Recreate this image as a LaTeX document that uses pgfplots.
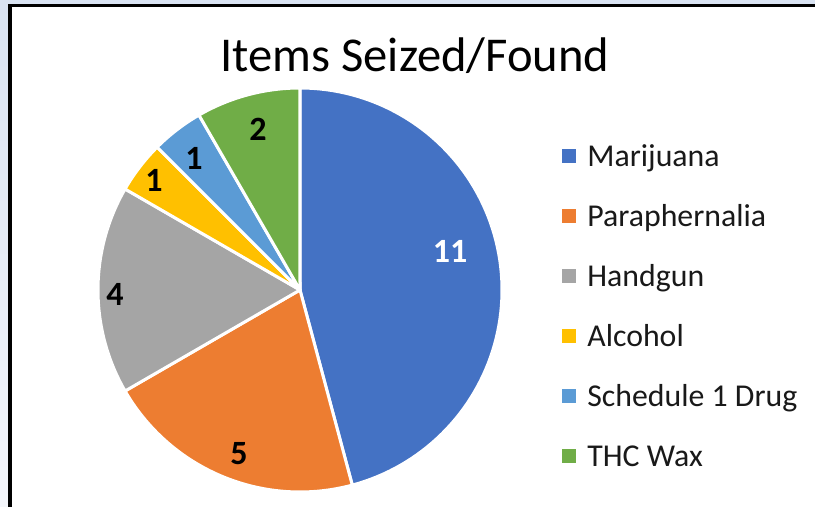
\documentclass[border=0pt]{standalone}
\usepackage{pgfplots}
\pgfplotsset{compat=1.18}
\usepackage{fontspec}
\setmainfont{Carlito}
\definecolor{cMar}{HTML}{4472C4}
\definecolor{cPar}{HTML}{ED7D31}
\definecolor{cHan}{HTML}{A5A5A5}
\definecolor{cAlc}{HTML}{FFC000}
\definecolor{cSch}{HTML}{5B9BD5}
\definecolor{cTHC}{HTML}{70AD47}
\definecolor{bgA}{HTML}{D9E3F2}
\definecolor{bgB}{HTML}{F4F6FB}
% values
\def\vA{11}\def\vB{5}\def\vC{4}\def\vD{1}\def\vE{1}\def\vF{2}
\pgfmathsetmacro{\tot}{\vA+\vB+\vC+\vD+\vE+\vF}
\pgfmathsetmacro{\aA}{90}
\pgfmathsetmacro{\aB}{\aA-\vA/\tot*360}
\pgfmathsetmacro{\aC}{\aB-\vB/\tot*360}
\pgfmathsetmacro{\aD}{\aC-\vC/\tot*360}
\pgfmathsetmacro{\aE}{\aD-\vD/\tot*360}
\pgfmathsetmacro{\aF}{\aE-\vE/\tot*360}
\pgfmathsetmacro{\aG}{\aF-\vF/\tot*360}
\def\cx{300}\def\cy{217}\def\R{202}
\tikzset{dl/.style={font=\fontsize{17}{20}\selectfont\bfseries, inner sep=0pt, anchor=center},
         lt/.style={font=\fontsize{15.9}{18}\selectfont, inner sep=0pt, anchor=base west, text=black!90},
         sl/.style={draw=white, line width=1.5pt, line join=round}}
\begin{document}
\begin{tikzpicture}
\begin{axis}[
  width=407.5pt, height=253.5pt, scale only axis,
  xmin=0, xmax=815, ymin=0, ymax=507,
  hide axis, clip=false,
]
% background and frame
\fill[white] (axis cs:0,0) rectangle (axis cs:815,507);
\shade[top color=bgA, bottom color=bgB] (axis cs:0,0) rectangle (axis cs:8,507);
\fill[bgA] (axis cs:0,503) rectangle (axis cs:815,507);
\fill[black] (axis cs:8,0) rectangle (axis cs:12,503);
\fill[black] (axis cs:8,500) rectangle (axis cs:815,503);
% slices
\addplot[fill=cMar, sl, domain=\aB:\aA, samples=90, variable=\t]
  ({\cx+\R*cos(t)},{\cy+\R*sin(t)}) -- (axis cs:\cx,\cy) -- cycle;
\addplot[fill=cPar, sl, domain=\aC:\aB, samples=60, variable=\t]
  ({\cx+\R*cos(t)},{\cy+\R*sin(t)}) -- (axis cs:\cx,\cy) -- cycle;
\addplot[fill=cHan, sl, domain=\aD:\aC, samples=50, variable=\t]
  ({\cx+\R*cos(t)},{\cy+\R*sin(t)}) -- (axis cs:\cx,\cy) -- cycle;
\addplot[fill=cAlc, sl, domain=\aE:\aD, samples=20, variable=\t]
  ({\cx+\R*cos(t)},{\cy+\R*sin(t)}) -- (axis cs:\cx,\cy) -- cycle;
\addplot[fill=cSch, sl, domain=\aF:\aE, samples=20, variable=\t]
  ({\cx+\R*cos(t)},{\cy+\R*sin(t)}) -- (axis cs:\cx,\cy) -- cycle;
\addplot[fill=cTHC, sl, domain=\aG:\aF, samples=30, variable=\t]
  ({\cx+\R*cos(t)},{\cy+\R*sin(t)}) -- (axis cs:\cx,\cy) -- cycle;
% data labels
\node[dl, text=white] at (axis cs:450,256) {11};
\node[dl] at (axis cs:239,53) {5};
\node[dl] at (axis cs:115,213) {4};
\node[dl] at (axis cs:154,327) {1};
\node[dl] at (axis cs:194,349) {1};
\node[dl] at (axis cs:258,378) {2};
% title
\node[font=\fontsize{24.3}{29}\selectfont, inner sep=0pt, anchor=base, text=black] at (axis cs:415,435) {Items Seized/Found};
% legend
\fill[cMar] (axis cs:562,344) rectangle (axis cs:576,358);
\node[lt] at (axis cs:587,340) {Marijuana};
\fill[cPar] (axis cs:562,284) rectangle (axis cs:576,298);
\node[lt] at (axis cs:587,280) {Paraphernalia};
\fill[cHan] (axis cs:562,224) rectangle (axis cs:576,238);
\node[lt] at (axis cs:587,220) {Handgun};
\fill[cAlc] (axis cs:562,164) rectangle (axis cs:576,178);
\node[lt] at (axis cs:587,160) {Alcohol};
\fill[cSch] (axis cs:562,104) rectangle (axis cs:576,118);
\node[lt] at (axis cs:587,100) {Schedule 1 Drug};
\fill[cTHC] (axis cs:562,44) rectangle (axis cs:576,58);
\node[lt] at (axis cs:587,40) {THC Wax};
\end{axis}
\end{tikzpicture}
\end{document}
